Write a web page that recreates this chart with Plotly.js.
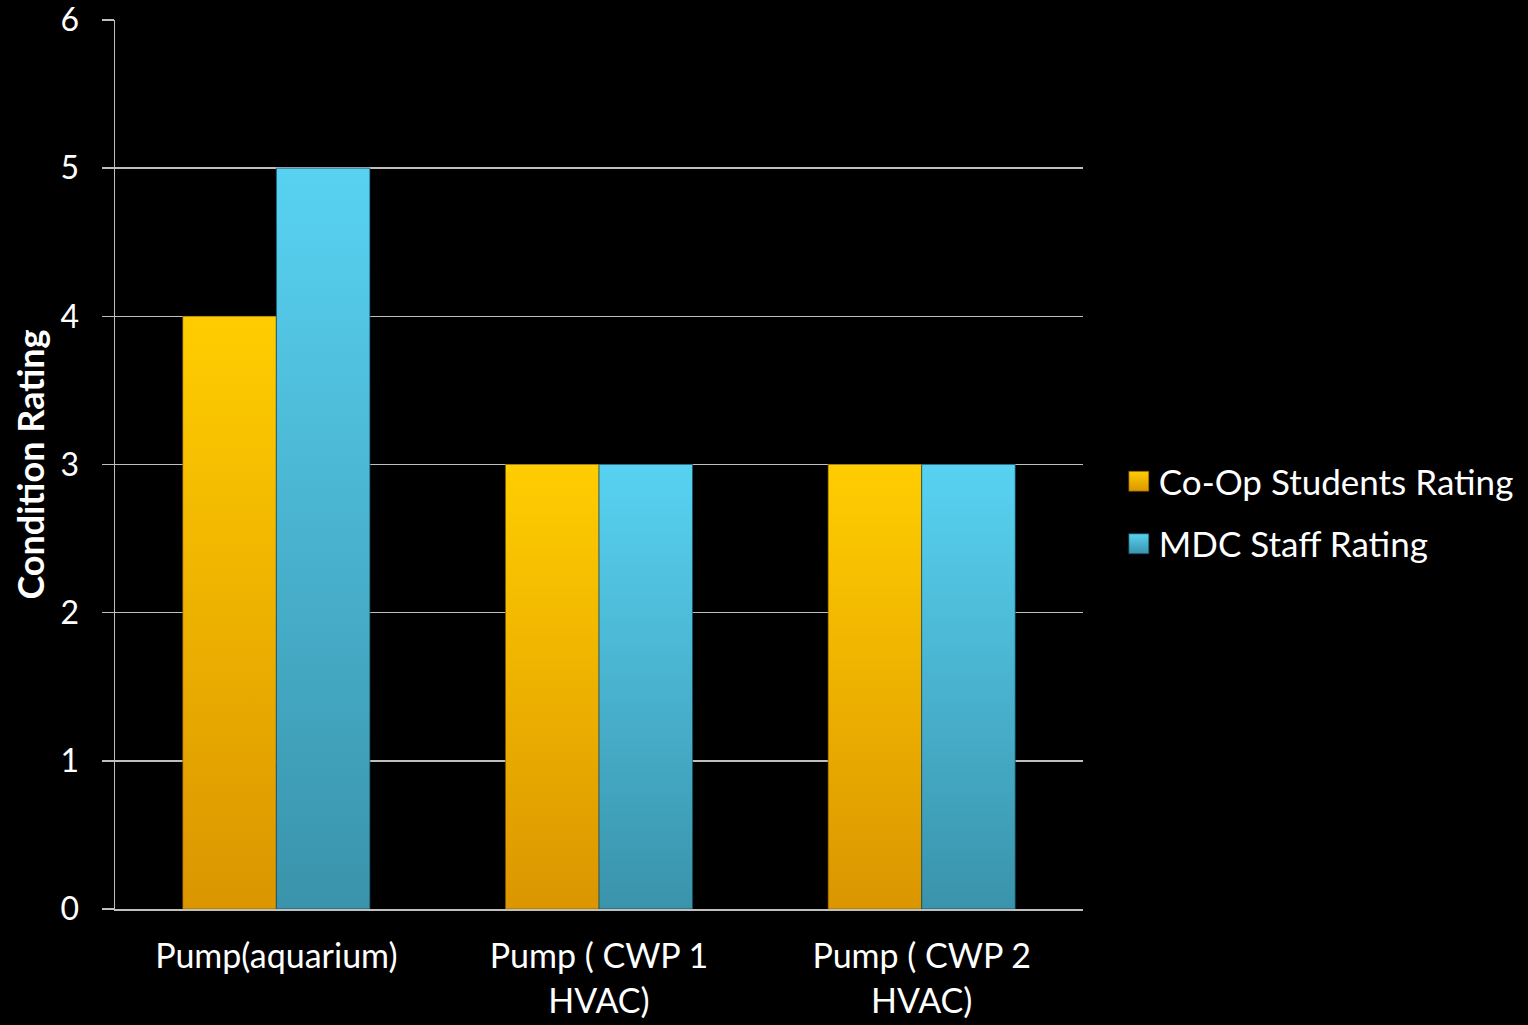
<!DOCTYPE html>
<html>
<head>
<meta charset="utf-8">
<script src="https://cdn.plot.ly/plotly-3.0.1.min.js"></script>
<style>
  html, body { margin: 0; padding: 0; background: #000; }
  #chart { width: 1528px; height: 1025px; }
</style>
</head>
<body>
<div id="chart"></div>
<script>
// Pump condition ratings by assessor group
const categories = ["Pump(aquarium)", "Pump ( CWP 1<br>HVAC)", "Pump ( CWP 2<br>HVAC)"];
const coopRatings = [4, 3, 3];
const staffRatings = [5, 3, 3];
const seriesNames = ["Co-Op Students Rating", "MDC Staff Rating"];
const yTicks = [0, 1, 2, 3, 4, 5, 6];

const FONT = "Lato, 'Open Sans', sans-serif";
const GRID = "#bfbfbf";

const traces = [
  {
    type: "bar", name: seriesNames[0], x: categories, y: coopRatings,
    legendgroup: "a",
    marker: { color: "#f2b000", line: { color: "rgba(120,80,0,0.6)", width: 1 } },
    hoverinfo: "skip"
  },
  {
    type: "bar", name: seriesNames[1], x: categories, y: staffRatings,
    legendgroup: "b",
    marker: { color: "#46b4d4", line: { color: "rgba(20,70,90,0.7)", width: 1 } },
    hoverinfo: "skip"
  }
];

const layout = {
  width: 1528, height: 1025,
  paper_bgcolor: "#000", plot_bgcolor: "#000",
  margin: { l: 115, r: 445, t: 20, b: 116, autoexpand: false },
  font: { family: FONT, color: "#fff" },
  barmode: "group",
  bargap: 0.42, bargroupgap: 0,
  showlegend: true,
  legend: {
    x: 1.037, xanchor: "left", y: 0.446, yanchor: "middle",
    font: { size: 35, color: "#fff", family: FONT },
    traceorder: "grouped", tracegroupgap: 14,
    itemwidth: 30,
    bgcolor: "rgba(0,0,0,0)"
  },
  xaxis: {
    type: "category", automargin: false,
    showline: true, linecolor: GRID, linewidth: 1.5,
    ticks: "", showgrid: false,
    ticklabelstandoff: 17,
    tickfont: { size: 34, color: "#fff", family: FONT }
  },
  yaxis: {
    range: [0, 6], tickvals: yTicks, ticktext: yTicks.map(String),
    automargin: false,
    showline: true, linecolor: GRID, linewidth: 1.5,
    ticks: "outside", ticklen: 12, tickcolor: GRID, tickwidth: 1.5,
    ticklabelstandoff: 16, ticklabeloverflow: "allow",
    showgrid: true, gridcolor: GRID, gridwidth: 1.5,
    zeroline: false,
    tickfont: { size: 32, color: "#fff", family: FONT },
    title: { text: "<b>Condition Rating</b>", font: { size: 36, color: "#fff", family: FONT }, standoff: 5 }
  }
};

// vertical colour ramps for each series
const ramps = [
  { id: "gradCoop", top: "#ffcd00", bottom: "#db9600", edge: "rgba(110,70,0,0.6)" },
  { id: "gradStaff", top: "#58d2f2", bottom: "#3a93ab", edge: "rgba(20,70,90,0.7)" }
];

function applyGradients(gd) {
  const svg = gd.querySelector("svg.main-svg");
  const ns = "http://www.w3.org/2000/svg";
  let defs = svg.querySelector("defs");
  if (!defs) { defs = document.createElementNS(ns, "defs"); svg.insertBefore(defs, svg.firstChild); }
  ramps.forEach(r => {
    if (defs.querySelector("#" + r.id)) return;
    const g = document.createElementNS(ns, "linearGradient");
    g.setAttribute("id", r.id);
    g.setAttribute("x1", "0"); g.setAttribute("y1", "0");
    g.setAttribute("x2", "0"); g.setAttribute("y2", "1");
    const s1 = document.createElementNS(ns, "stop");
    s1.setAttribute("offset", "0"); s1.setAttribute("stop-color", r.top);
    const s2 = document.createElementNS(ns, "stop");
    s2.setAttribute("offset", "1"); s2.setAttribute("stop-color", r.bottom);
    g.appendChild(s1); g.appendChild(s2);
    defs.appendChild(g);
  });
  gd.querySelectorAll(".barlayer .trace.bars").forEach((t, i) => {
    t.querySelectorAll("path").forEach(p => { p.style.fill = "url(#" + ramps[i].id + ")"; });
  });
  // square swatches in the legend, sized to the legend text
  gd.querySelectorAll(".legend [clip-path]").forEach(e => e.removeAttribute("clip-path"));
  gd.querySelectorAll(".legend .traces").forEach((t, i) => {
    const pts = t.querySelector(".legendpoints");
    if (!pts) return;
    while (pts.firstChild) pts.removeChild(pts.firstChild);
    const rect = document.createElementNS(ns, "rect");
    rect.setAttribute("x", "10"); rect.setAttribute("y", "-10");
    rect.setAttribute("width", "20"); rect.setAttribute("height", "20");
    rect.setAttribute("fill", "url(#" + ramps[i].id + ")");
    rect.setAttribute("stroke", ramps[i].edge);
    rect.setAttribute("stroke-width", "1");
    pts.appendChild(rect);
  });
}

Plotly.newPlot("chart", traces, layout, { staticPlot: true }).then(gd => {
  applyGradients(gd);
  setTimeout(() => applyGradients(gd), 50);
});
</script>
</body>
</html>
